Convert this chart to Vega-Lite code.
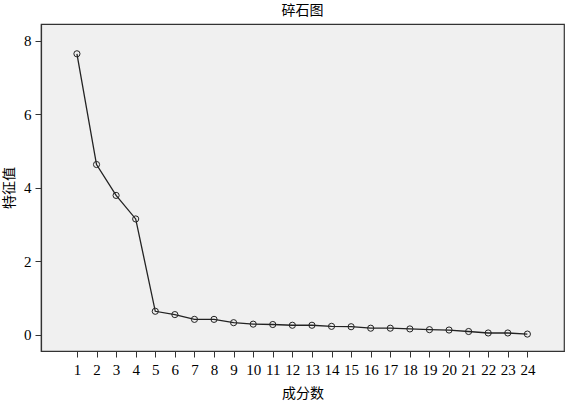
{
  "$schema": "https://vega.github.io/schema/vega-lite/v6.json",
  "autosize": "none",
  "width": 523,
  "height": 327,
  "padding": {"left": 41, "top": 24, "right": 3, "bottom": 52},
  "background": "white",
  "title": {
    "text": "碎石图",
    "font": "'Liberation Serif', 'Noto Sans CJK SC', serif",
    "fontSize": 14,
    "fontWeight": "normal",
    "color": "#000000",
    "anchor": "middle",
    "offset": 6
  },
  "config": {
    "view": {"fill": "#f0f0f0", "stroke": "#333333", "strokeWidth": 1.2},
    "axis": {
      "grid": false,
      "domainColor": "#333333",
      "domainWidth": 1.2,
      "tickColor": "#333333",
      "tickSize": 6,
      "tickWidth": 1,
      "labelFont": "'Liberation Serif', 'Noto Sans CJK SC', serif",
      "labelFontSize": 15,
      "labelColor": "#000000",
      "titleFont": "'Liberation Serif', 'Noto Sans CJK SC', serif",
      "titleFontSize": 14,
      "titleFontWeight": "normal",
      "titleColor": "#000000"
    }
  },
  "data": {
    "values": [
      {"component": 1, "eigenvalue": 7.64},
      {"component": 2, "eigenvalue": 4.63},
      {"component": 3, "eigenvalue": 3.79},
      {"component": 4, "eigenvalue": 3.15},
      {"component": 5, "eigenvalue": 0.64},
      {"component": 6, "eigenvalue": 0.55},
      {"component": 7, "eigenvalue": 0.42},
      {"component": 8, "eigenvalue": 0.42},
      {"component": 9, "eigenvalue": 0.33},
      {"component": 10, "eigenvalue": 0.29},
      {"component": 11, "eigenvalue": 0.28},
      {"component": 12, "eigenvalue": 0.26},
      {"component": 13, "eigenvalue": 0.26},
      {"component": 14, "eigenvalue": 0.23},
      {"component": 15, "eigenvalue": 0.22},
      {"component": 16, "eigenvalue": 0.18},
      {"component": 17, "eigenvalue": 0.18},
      {"component": 18, "eigenvalue": 0.16},
      {"component": 19, "eigenvalue": 0.14},
      {"component": 20, "eigenvalue": 0.13},
      {"component": 21, "eigenvalue": 0.09},
      {"component": 22, "eigenvalue": 0.05},
      {"component": 23, "eigenvalue": 0.05},
      {"component": 24, "eigenvalue": 0.02}
    ]
  },
  "encoding": {
    "x": {
      "field": "component",
      "type": "quantitative",
      "scale": {"domain": [-0.835, 25.87], "nice": false, "zero": false},
      "axis": {
        "title": "成分数",
        "values": [1,2,3,4,5,6,7,8,9,10,11,12,13,14,15,16,17,18,19,20,21,22,23,24],
        "labelPadding": 5,
        "titlePadding": 9,
        "labelFlush": false,
        "labelOverlap": false
      }
    },
    "y": {
      "field": "eigenvalue",
      "type": "quantitative",
      "scale": {"domain": [-0.44, 8.45], "nice": false, "zero": false},
      "axis": {
        "title": "特征值",
        "values": [0, 2, 4, 6, 8],
        "labelPadding": 4,
        "titlePadding": 7,
        "labelFlush": false
      }
    }
  },
  "layer": [
    {"mark": {"type": "line", "color": "#222222", "strokeWidth": 1.3}},
    {"mark": {"type": "point", "shape": "circle", "filled": false, "stroke": "#222222", "strokeWidth": 1, "size": 38, "opacity": 1}}
  ]
}
